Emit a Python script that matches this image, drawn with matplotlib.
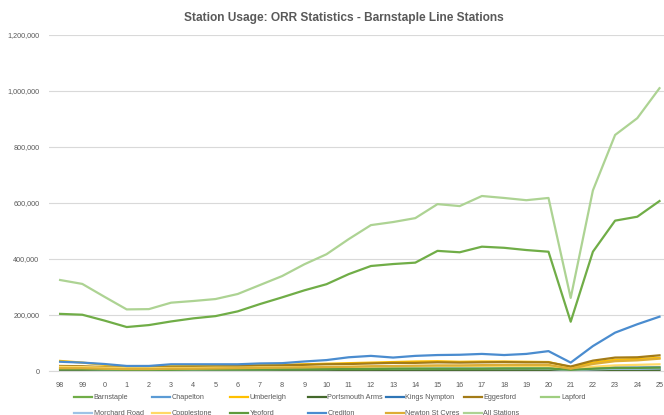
import matplotlib
matplotlib.use("Agg")
import matplotlib.pyplot as plt
from matplotlib.lines import Line2D
from matplotlib.ticker import FuncFormatter

# financial year labels (98 = 1997/98 ... 25 = 2024/25)
years = ["98", "99", "0", "1", "2", "3", "4", "5", "6", "7", "8", "9", "10", "11",
         "12", "13", "14", "15", "16", "17", "18", "19", "20", "21", "22", "23", "24", "25"]

barnstaple = [204, 201, 180, 157, 164, 177, 188, 196, 213, 239, 263, 288, 310, 346,
              375, 382, 387, 429, 424, 444, 440, 432, 426, 176, 426, 537, 551, 607]
chapelton = [3, 3, 2, 2, 2, 2, 2, 3, 3, 3, 3, 4, 4, 4,
             4, 4, 5, 5, 5, 5, 5, 5, 5, 2, 4, 5, 5, 6]
umberleigh = [36, 30, 22, 16, 16, 18, 19, 20, 20, 22, 22, 24, 26, 28,
              30, 32, 34, 35, 33, 34, 34, 33, 32, 14, 30, 40, 43, 47]
portsmouth_arms = [3, 3, 2, 2, 2, 2, 2, 2, 2, 2, 2, 3, 3, 3,
                   3, 3, 3, 3, 3, 3, 3, 3, 3, 1, 2, 3, 3, 3]
kings_nympton = [8, 8, 6, 5, 5, 6, 6, 7, 7, 7, 8, 9, 10, 11,
                 12, 12, 13, 14, 14, 14, 14, 14, 13, 5, 10, 12, 12, 13]
eggesford = [18, 17, 14, 11, 12, 14, 15, 16, 17, 19, 20, 22, 24, 25,
             27, 29, 29, 31, 30, 31, 32, 31, 31, 16, 37, 48, 49, 56]
lapford = [9, 8, 7, 6, 6, 6, 7, 7, 7, 8, 8, 9, 9, 10,
           10, 10, 10, 11, 11, 11, 11, 11, 10, 4, 8, 10, 10, 11]
morchard_road = [7, 7, 6, 5, 5, 5, 5, 6, 6, 6, 7, 7, 7, 8,
                 8, 8, 8, 9, 9, 9, 9, 9, 8, 3, 6, 8, 8, 9]
copplestone = [15, 14, 12, 10, 10, 11, 11, 12, 12, 13, 13, 14, 15, 15,
               16, 16, 17, 18, 18, 18, 18, 18, 18, 7, 15, 20, 22, 24]
yeoford = [6, 6, 5, 4, 4, 4, 5, 5, 5, 5, 6, 6, 7, 7,
           7, 8, 8, 8, 8, 8, 9, 9, 9, 4, 8, 11, 11, 12]
crediton = [33, 30, 25, 18, 18, 24, 24, 24, 24, 27, 28, 34, 39, 49,
            54, 48, 54, 57, 58, 61, 57, 61, 71, 30, 89, 137, 167, 194]
newton_st_cyres = [10, 10, 8, 7, 7, 8, 8, 9, 10, 11, 12, 13, 14, 15,
                   17, 18, 19, 20, 20, 21, 22, 22, 22, 8, 25, 35, 38, 44]
all_stations = [325, 311, 265, 220, 221, 244, 250, 257, 275, 307, 339, 381, 417, 471,
                521, 532, 546, 596, 589, 625, 618, 610, 618, 261, 645, 843, 903, 1010]

series = [
    ("Barnstaple", barnstaple, "#70AD47"),
    ("Chapelton", chapelton, "#5B9BD5"),
    ("Umberleigh", umberleigh, "#FFC000"),
    ("Portsmouth Arms", portsmouth_arms, "#43682B"),
    ("Kings Nympton", kings_nympton, "#2E75B6"),
    ("Eggesford", eggesford, "#A37B17"),
    ("Lapford", lapford, "#9FCE80"),
    ("Morchard Road", morchard_road, "#9DC3E6"),
    ("Copplestone", copplestone, "#FFD966"),
    ("Yeoford", yeoford, "#5E9A3C"),
    ("Crediton", crediton, "#4A8CCF"),
    ("Newton St Cyres", newton_st_cyres, "#DDAD35"),
    ("All Stations", all_stations, "#ADD393"),
]

W, H = 664, 415
grey = "#595959"
plt.rcParams["font.family"] = ["Liberation Sans", "DejaVu Sans"]

fig = plt.figure(figsize=(W / 100, H / 100), dpi=100)
ax = fig.add_axes([49 / W, (H - 371) / H, 621.6 / W, 336 / H])

x = range(len(years))
for name, vals, col in series:
    ax.plot(x, [v * 1000 for v in vals], color=col, lw=1.6, label=name,
            solid_joinstyle="round")

ax.set_xlim(-0.5, len(years) - 0.5)
ax.set_ylim(0, 1200000)
ax.set_yticks(range(0, 1200001, 200000))
ax.yaxis.set_major_formatter(FuncFormatter(lambda v, p: f"{int(v):,}"))
ax.set_xticks(list(x))
ax.set_xticklabels(years)
ax.grid(axis="y", color="#D9D9D9", lw=0.8)
ax.set_axisbelow(True)
for s in ["top", "right", "left"]:
    ax.spines[s].set_visible(False)
ax.spines["bottom"].set_color("#D9D9D9")
ax.tick_params(length=0, labelsize=5.2, colors=grey)
ax.tick_params(axis="y", pad=7)
ax.tick_params(axis="x", pad=8)

fig.text(343.5 / W, 1 - 18 / H, "Station Usage: ORR Statistics - Barnstaple Line Stations",
         ha="center", va="center", fontsize=8.6, fontweight="bold", color=grey)

# legend laid out like Excel: 7 equal columns, row-major
for i, (name, vals, col) in enumerate(series):
    r, c = divmod(i, 7)
    x0 = 74 + 77.9 * c
    y0 = 397 + 16 * r
    fig.add_artist(Line2D([x0 / W, (x0 + 18) / W], [1 - y0 / H, 1 - y0 / H],
                          color=col, lw=1.6, transform=fig.transFigure))
    fig.text((x0 + 19.5) / W, 1 - y0 / H, name, ha="left", va="center",
             fontsize=5.2, color=grey)

fig.savefig("out.png", dpi=100)
